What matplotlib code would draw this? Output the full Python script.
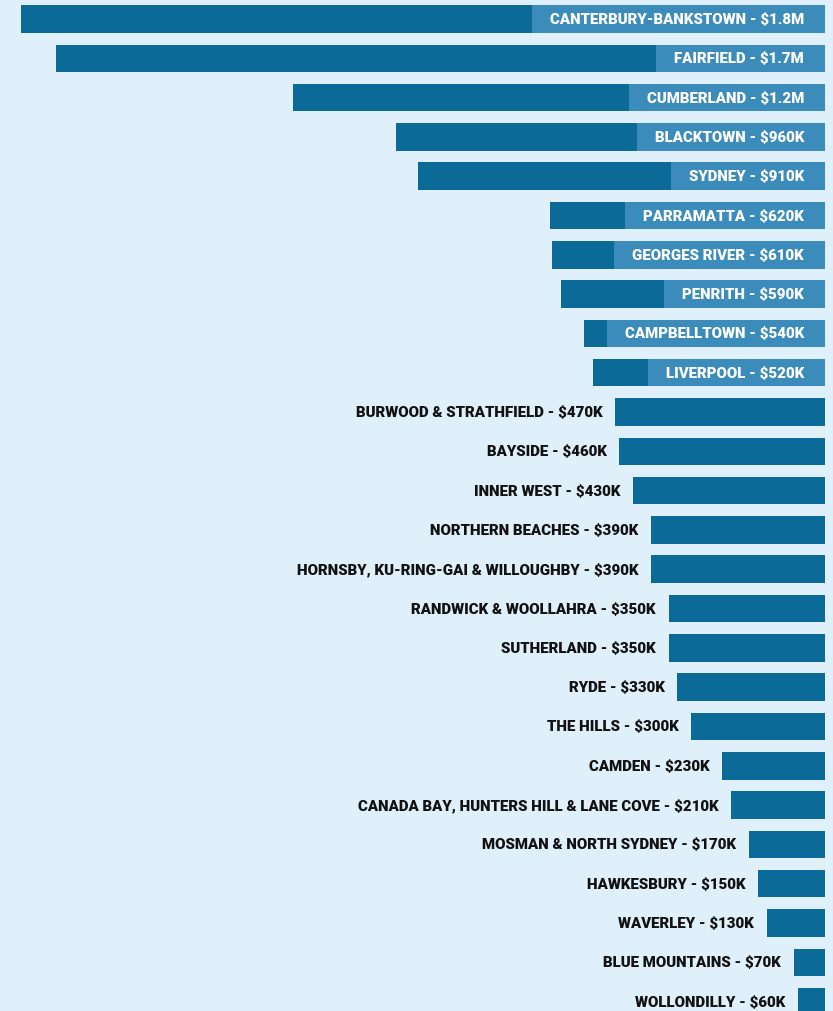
import matplotlib
matplotlib.use("Agg")
import matplotlib.pyplot as plt

# ----------------------------------------
# Data
# ----------------------------------------
areas = [
    "CANTERBURY-BANKSTOWN", "FAIRFIELD", "CUMBERLAND", "BLACKTOWN", "SYDNEY",
    "PARRAMATTA", "GEORGES RIVER", "PENRITH", "CAMPBELLTOWN", "LIVERPOOL",
    "BURWOOD & STRATHFIELD", "BAYSIDE", "INNER WEST", "NORTHERN BEACHES",
    "HORNSBY, KU-RING-GAI & WILLOUGHBY", "RANDWICK & WOOLLAHRA", "SUTHERLAND",
    "RYDE", "THE HILLS", "CAMDEN", "CANADA BAY, HUNTERS HILL & LANE COVE",
    "MOSMAN & NORTH SYDNEY", "HAWKESBURY", "WAVERLEY", "BLUE MOUNTAINS",
    "WOLLONDILLY",
]
# values in $ millions
values = [1.8, 1.72, 1.19, 0.96, 0.91, 0.615, 0.61, 0.59, 0.54, 0.52,
          0.47, 0.46, 0.43, 0.39, 0.39, 0.35, 0.35, 0.33, 0.30, 0.23,
          0.21, 0.17, 0.15, 0.13, 0.07, 0.06]
value_labels = ["$1.8M", "$1.7M", "$1.2M", "$960K", "$910K", "$620K", "$610K",
                "$590K", "$540K", "$520K", "$470K", "$460K", "$430K", "$390K",
                "$390K", "$350K", "$350K", "$330K", "$300K", "$230K", "$210K",
                "$170K", "$150K", "$130K", "$70K", "$60K"]
n_inside = 10  # top bars carry their label inside

bg = "#dff0fa"
bar_col = "#0b6a98"
tag_col = "#3b8bbb"
font = ["Roboto", "DejaVu Sans"]

fig = plt.figure(figsize=(8.33, 10.12), dpi=100, facecolor=bg)
ax = fig.add_axes([0, 0, 1, 1])
ax.set_facecolor(bg)

ypos = list(range(len(values)))
ax.barh(ypos, values, height=0.7, color=bar_col, zorder=2)
ax.set_xlim(1.846, -0.018)
ax.set_ylim(25.24, -0.509)
ax.axis("off")

inside_texts = []
for i, (name, v, lab) in enumerate(zip(areas, values, value_labels)):
    text = f"{name} - {lab}"
    if i < n_inside:
        t = ax.annotate(text, xy=(0, i), xytext=(-15, 0),
                        textcoords="offset points", ha="right", va="center",
                        color="white", fontsize=10.8, fontweight="heavy",
                        family=font, zorder=4)
        inside_texts.append((i, t))
    else:
        ax.annotate(text, xy=(v, i), xytext=(-9, 0),
                    textcoords="offset points", ha="right", va="center",
                    color="#111111", fontsize=10.8, fontweight="heavy",
                    family=font, zorder=4)

# lighter tag behind the inside labels, sized from the text extent
fig.canvas.draw()
renderer = fig.canvas.get_renderer()
inv = ax.transData.inverted()
for i, t in inside_texts:
    bb = t.get_window_extent(renderer)
    left = inv.transform((bb.x0 - 18, 0))[0]
    ax.barh(i, left, height=0.7, color=tag_col, zorder=3)

fig.savefig("out.png", dpi=100, facecolor=bg)
